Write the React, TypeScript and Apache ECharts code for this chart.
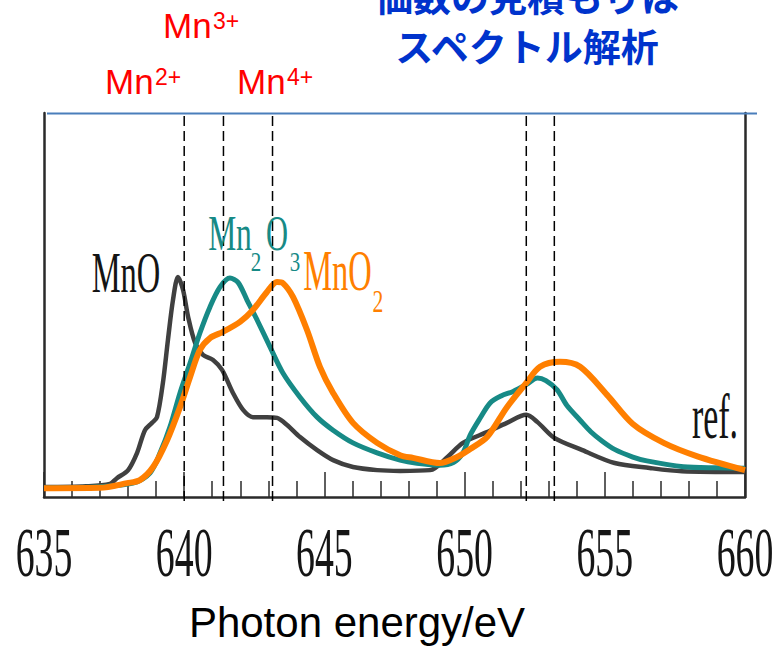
import React, { useEffect, useRef } from "react";
import * as echarts from "echarts";

// ---- data ----
const tickValues = [635, 640, 645, 650, 655, 660];
const tickLabels = ["635", "640", "645", "650", "655", "660"];
const refEnergies = [640.0, 641.4, 643.15, 652.2, 653.2];

const mnoE = [635, 636.5, 637.35, 637.6, 638.0, 638.32, 638.6, 638.85, 639.03, 639.24, 639.42, 639.6, 639.78, 639.96, 640.14, 640.39, 640.67, 641.03, 641.35, 641.74, 642.1, 642.45, 642.95, 643.31, 643.67, 644.13, 644.74, 645.31, 646.02, 646.88, 647.7, 648.77, 649.4, 649.94, 650.8, 651.51, 652.2, 652.6, 653.2, 654.2, 655.35, 656.6, 657.75, 660];
const mnoI = [2.6, 2.8, 3.4, 4.9, 7.0, 11.5, 17.4, 19.3, 20.8, 29.7, 40.9, 51.3, 57.3, 53.9, 46.9, 40.1, 37.0, 35.7, 33.1, 27.1, 22.7, 20.8, 20.8, 20.6, 18.75, 15.6, 12.2, 9.6, 7.8, 7.0, 6.8, 7.0, 10.5, 14.1, 16.9, 19.3, 21.4, 19.5, 15.4, 12.2, 8.85, 7.55, 6.7, 6.5];

const mn2o3E = [635, 637.0, 638.17, 638.78, 639.14, 639.49, 639.85, 640.21, 640.56, 640.92, 641.28, 641.63, 641.92, 642.24, 642.6, 643.06, 643.52, 644.13, 644.74, 645.31, 646.02, 646.88, 647.7, 648.3, 649.12, 649.6, 649.94, 650.19, 650.55, 650.91, 651.3, 651.73, 652.2, 652.6, 652.9, 653.3, 653.65, 654.12, 654.5, 654.9, 655.35, 656.0, 656.5, 657.8, 659.0, 660];
const mn2o3I = [2.4, 2.7, 3.6, 6.25, 11.5, 18.2, 27.1, 34.9, 42.7, 49.5, 54.7, 57.0, 55.9, 51.3, 46.1, 39.1, 32.3, 26.0, 20.8, 17.4, 14.1, 11.5, 9.6, 8.8, 8.3, 9.0, 11.5, 16.0, 20.5, 24.5, 26.3, 27.5, 29.3, 31.0, 30.3, 27.9, 23.8, 20.0, 17.0, 14.6, 12.4, 10.4, 9.4, 7.9, 7.6, 7.5];

const mno2E = [635, 637.0, 637.96, 638.42, 638.89, 639.39, 639.85, 640.21, 640.56, 640.92, 641.38, 641.99, 642.45, 642.95, 643.31, 643.52, 643.88, 644.38, 644.84, 645.31, 646.02, 646.88, 647.7, 648.16, 649.12, 649.73, 650.2, 650.8, 651.51, 652.2, 652.69, 653.4, 654.12, 655.08, 656.0, 657.1, 658.3, 660];
const mno2I = [2.3, 2.4, 3.6, 4.4, 7.8, 14.8, 23.4, 31.25, 38.3, 41.4, 43.0, 45.6, 48.7, 53.4, 56.0, 55.7, 52.1, 43.5, 33.9, 27.1, 19.3, 14.1, 10.9, 10.2, 8.85, 10.4, 12.5, 15.6, 23.4, 29.7, 33.9, 35.2, 33.9, 26.6, 19.0, 14.1, 10.6, 7.0];

const zip = (xs: number[], ys: number[]) => xs.map((x, i) => [x, ys[i]]);

const GRAY = "#404040";
const TEAL = "#178a86";
const ORANGE = "#ff7f00";
const SERIF = "Liberation Serif";
const SANS = "Liberation Sans";

function txt(
  text: string,
  x: number,
  y: number,
  fontSize: number,
  fill: string,
  opts: { family?: string; scaleX?: number; align?: string; weight?: string } = {}
) {
  const align = opts.align || "center";
  return {
    type: "text",
    x,
    y,
    scaleX: opts.scaleX ?? 1,
    z: 100,
    style: {
      text,
      fontSize,
      fontFamily: opts.family || SERIF,
      fontWeight: opts.weight || "normal",
      fill,
      align,
      verticalAlign: "middle",
      textAlign: align,
      textVerticalAlign: "middle",
    },
  };
}

export default function App() {
  const ref = useRef<HTMLDivElement>(null);
  useEffect(() => {
    if (!ref.current) return;
    const chart = echarts.init(ref.current, undefined, { renderer: "svg" });
    const axisLineStyle = { color: "#2a2a2a", width: 2.5 };
    const dashSeries = refEnergies.map((e) => ({
      type: "line",
      data: [
        [e, 99.2],
        [e, -2.3],
      ],
      symbol: "none",
      clip: false,
      z: 10,
      silent: true,
      lineStyle: { color: "#000", width: 1.5, type: [10, 5] },
    }));
    chart.setOption({
      animation: false,
      grid: { left: 44, right: 33, top: 113, bottom: 149, outerBoundsMode: "none", containLabel: false },
      xAxis: {
        type: "value",
        min: 635,
        max: 660,
        interval: 5,
        axisLine: { show: true, onZero: false, lineStyle: axisLineStyle },
        axisTick: { show: true, inside: true, length: 25, lineStyle: { color: "#2a2a2a", width: 1.5 } },
        minorTick: { show: true, splitNumber: 5, length: 16, lineStyle: { color: "#2a2a2a", width: 1.5 } },
        axisLabel: { show: false },
        splitLine: { show: false },
        minorSplitLine: { show: false },
      },
      yAxis: [
        {
          type: "value",
          min: 0,
          max: 100,
          axisLine: { show: true, lineStyle: axisLineStyle },
          axisTick: { show: false },
          axisLabel: { show: false },
          splitLine: { show: false },
        },
        {
          type: "value",
          position: "right",
          min: 0,
          max: 100,
          axisLine: { show: true, lineStyle: axisLineStyle },
          axisTick: { show: false },
          axisLabel: { show: false },
          splitLine: { show: false },
        },
      ],
      series: [
        {
          name: "MnO",
          type: "line",
          data: zip(mnoE, mnoI),
          symbol: "none",
          smooth: 0.3,
          z: 3,
          lineStyle: { color: GRAY, width: 4.5 },
        },
        {
          name: "Mn2O3",
          type: "line",
          data: zip(mn2o3E, mn2o3I),
          symbol: "none",
          smooth: 0.3,
          z: 4,
          lineStyle: { color: TEAL, width: 5 },
        },
        {
          name: "MnO2",
          type: "line",
          data: zip(mno2E, mno2I),
          symbol: "none",
          smooth: 0.3,
          z: 5,
          lineStyle: { color: ORANGE, width: 6 },
        },
        ...dashSeries,
      ],
    });

    const tickEls = tickValues.map((v, i) => {
      const px = chart.convertToPixel({ xAxisIndex: 0 }, v) as number;
      return txt(tickLabels[i], px, 552.5, 70, "#151515", { scaleX: 0.54 });
    });

    chart.setOption({
      graphic: {
        elements: [
          {
            type: "line",
            z: 50,
            shape: { x1: 47, y1: 113.5, x2: 757, y2: 113.5 },
            style: { stroke: "#4a7ebb", lineWidth: 2 },
          },
          ...tickEls,
          // curve labels
          txt("MnO", 126, 273, 56, "#141414", { scaleX: 0.58 }),
          txt("Mn", 230, 233, 50, TEAL, { scaleX: 0.63 }),
          txt("2", 256, 261, 28, TEAL, { scaleX: 0.75 }),
          txt("O", 277, 233, 50, TEAL, { scaleX: 0.61 }),
          txt("3", 295, 261, 28, TEAL, { scaleX: 0.75 }),
          txt("MnO", 337.5, 271, 56, ORANGE, { scaleX: 0.58 }),
          txt("2", 378, 302, 31, ORANGE, { scaleX: 0.7 }),
          txt("ref.", 715, 416, 64, "#141414", { scaleX: 0.53 }),
          // oxidation state labels
          txt("Mn", 163, 25, 35, "#ff0000", { family: SANS, align: "left" }),
          txt("3+", 213, 21, 23, "#ff0000", { family: SANS, align: "left" }),
          txt("Mn", 105, 81, 35, "#ff0000", { family: SANS, align: "left" }),
          txt("2+", 155, 77, 23, "#ff0000", { family: SANS, align: "left" }),
          txt("Mn", 237, 81, 35, "#ff0000", { family: SANS, align: "left" }),
          txt("4+", 287, 77, 23, "#ff0000", { family: SANS, align: "left" }),
          // Japanese caption (first line is cut by the top edge, as in the reference)
          txt("価数の見積もりは", 527, -6, 38, "#0033cc", { family: "Noto Sans CJK JP", weight: "bold" }),
          txt("スペクトル解析", 527, 44, 38, "#0033cc", { family: "Noto Sans CJK JP", weight: "bold" }),
          // axis title
          txt("Photon energy/eV", 357, 622, 42, "#000000", { family: SANS }),
        ],
      },
    });

    return () => chart.dispose();
  }, []);
  return (
    <div
      ref={ref}
      style={{ position: "absolute", left: 0, top: 0, width: 778, height: 646, background: "#fff" }}
    />
  );
}
